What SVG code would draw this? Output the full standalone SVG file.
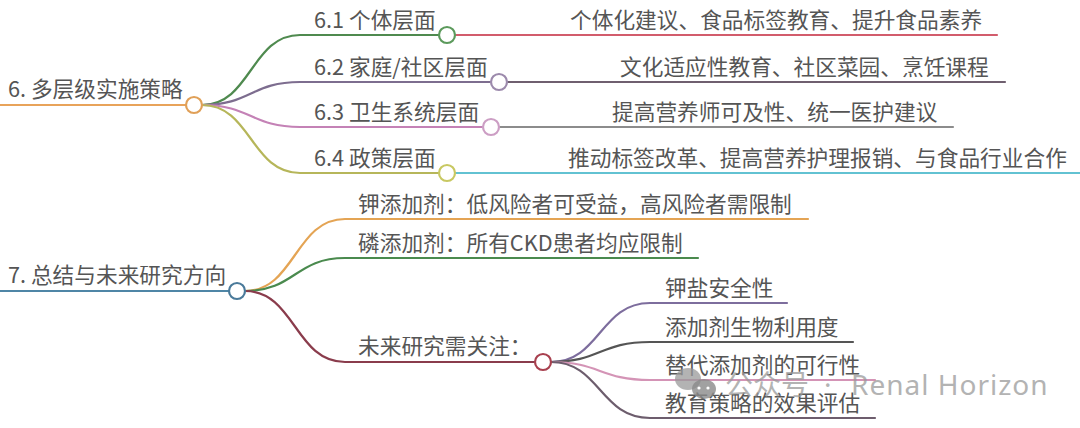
<svg xmlns="http://www.w3.org/2000/svg" width="1080" height="428" viewBox="0 0 1080 428">
<style>
text{font-family:"Noto Sans CJK SC","Noto Sans",sans-serif;font-size:21.7px;fill:#555555}
.c{fill:none;stroke-width:2.2;stroke-linecap:round}
.n{fill:#fff;stroke-width:2.2}
.wm{fill:#9a9a9a;opacity:0.75;font-family:"Noto Sans","Noto Sans CJK SC",sans-serif;font-size:28px}
</style>
<rect width="1080" height="428" fill="#fff"/>
<g id="connectors">
<path class="c" stroke="#e8a35a" d="M0 105 H186"/>
<path class="c" stroke="#4f8a4f" d="M202 105 C251 105 251 35 300 35 H439"/>
<path class="c" stroke="#7d6d8f" d="M202 105 C251 105 251 82 300 82 H491"/>
<path class="c" stroke="#c482b6" d="M202 105 C251 105 251 127 300 127 H483"/>
<path class="c" stroke="#b6b65a" d="M202 105 C251 105 251 173 300 173 H439"/>
<path class="c" stroke="#d25c6c" d="M455 35 H997"/>
<path class="c" stroke="#6f5f6f" d="M507 82 H1005"/>
<path class="c" stroke="#8c8c8c" d="M499 127 H953"/>
<path class="c" stroke="#62c2d2" d="M455 173 H1080"/>
<path class="c" stroke="#4f86a6" d="M0 291 H229"/>
<path class="c" stroke="#e4a454" d="M245 291 C295 291 295 219 345 219 H808"/>
<path class="c" stroke="#4a8a4e" d="M245 291 C295 291 295 258 345 258 H698"/>
<path class="c" stroke="#8a3c4c" d="M245 291 C295 291 295 362 345 362 H535"/>
<path class="c" stroke="#7d6d9d" d="M551 362 C600 362 600 303 650 303 H787"/>
<path class="c" stroke="#555555" d="M551 362 C600 362 600 342 650 342 H853"/>
<path class="c" stroke="#d494b6" d="M551 362 C600 362 600 380 650 380 H875"/>
<path class="c" stroke="#6d5d6d" d="M551 362 C600 362 600 418 650 418 H875"/>
</g>
<g id="n6">
<text x="8" y="97">6. 多层级实施策略</text>
<circle class="n" cx="194" cy="105" r="8" stroke="#e0a058"/>
</g>
<g id="n61">
<text x="314" y="28">6.1 个体层面</text>
<circle class="n" cx="447" cy="35" r="8" stroke="#5c9a5c"/>
</g>
<g id="n61a"><text x="570" y="28">个体化建议、食品标签教育、提升食品素养</text></g>
<g id="n62">
<text x="314" y="75">6.2 家庭/社区层面</text>
<circle class="n" cx="499" cy="82" r="8" stroke="#9c8aac"/>
</g>
<g id="n62a"><text x="620" y="75">文化适应性教育、社区菜园、烹饪课程</text></g>
<g id="n63">
<text x="314" y="120">6.3 卫生系统层面</text>
<circle class="n" cx="491" cy="127" r="8" stroke="#cc9ec4"/>
</g>
<g id="n63a"><text x="612" y="120">提高营养师可及性、统一医护建议</text></g>
<g id="n64">
<text x="314" y="166">6.4 政策层面</text>
<circle class="n" cx="447" cy="173" r="8" stroke="#c8c862"/>
</g>
<g id="n64a"><text x="568" y="166">推动标签改革、提高营养护理报销、与食品行业合作</text></g>
<g id="n7">
<text x="8" y="283">7. 总结与未来研究方向</text>
<circle class="n" cx="237" cy="291" r="8" stroke="#4a7a9a"/>
</g>
<g id="n71"><text x="358" y="212">钾添加剂：低风险者可受益，高风险者需限制</text></g>
<g id="n72"><text x="358" y="251">磷添加剂：所有CKD患者均应限制</text></g>
<g id="n73">
<text x="358" y="354">未来研究需关注：</text>
<circle class="n" cx="543" cy="362" r="8" stroke="#a8404f"/>
</g>
<g id="n731"><text x="665" y="296">钾盐安全性</text></g>
<g id="n732"><text x="665" y="335">添加剂生物利用度</text></g>
<g id="n733"><text x="665" y="373">替代添加剂的可行性</text></g>
<g id="n734"><text x="665" y="411">教育策略的效果评估</text></g>
<g id="watermark">
<ellipse cx="688" cy="379" rx="13" ry="11" fill="#9a9a9a" opacity="0.75"/>
<ellipse cx="704" cy="389" rx="12" ry="10" fill="#8a8a8a" opacity="0.8"/>
<circle cx="699" cy="388" r="1.6" fill="#fff"/>
<circle cx="708" cy="388" r="1.6" fill="#fff"/>
<text class="wm" x="725" y="395">公众号</text>
<text class="wm" x="824" y="395">·</text>
<text class="wm" x="851" y="395" letter-spacing="1">Renal Horizon</text>
</g>
</svg>
